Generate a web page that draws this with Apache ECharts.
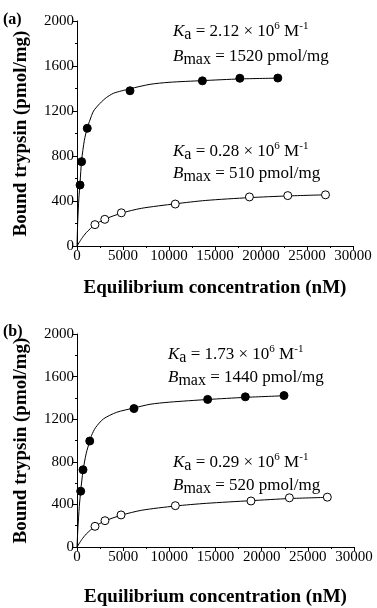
<!DOCTYPE html>
<html>
<head>
<meta charset="utf-8">
<script src="https://cdn.jsdelivr.net/npm/echarts@6/dist/echarts.min.js"></script>
<style>
html, body { margin: 0; padding: 0; background: #fff; }
#main { width: 377px; height: 608px; }
</style>
</head>
<body>
<div id="main"></div>
<script>
// 面板 (a) 数据点，读自原图
var aFilledX = [330, 500, 1115, 5760, 13630, 17700, 21830];
var aFilledY = [542, 750, 1046, 1380, 1468, 1491, 1493];
var aOpenX = [1950, 3020, 4820, 10680, 18740, 22910, 27010];
var aOpenY = [190, 237, 295, 373, 436, 448, 455];
// 面板 (a) 拟合曲线
var aFitFX = [0, 80, 200, 330, 500, 800, 1115, 1410, 1800, 2500, 3200, 3950, 4800, 5760, 7930, 10000, 13630, 17700, 21830];
var aFitFY = [0, 220, 420, 560, 760, 940, 1050, 1120, 1200, 1268, 1320, 1357, 1378, 1398, 1437, 1455, 1470, 1485, 1492];
var aFitOX = [0, 500, 1000, 1950, 3020, 4820, 7000, 10680, 14000, 18740, 22910, 27010];
var aFitOY = [0, 65, 118, 190, 238, 292, 335, 375, 405, 430, 445, 455];

// 面板 (b) 数据点
var bFilledX = [400, 650, 1380, 6170, 14150, 18230, 22420];
var bFilledY = [524, 725, 995, 1300, 1386, 1410, 1422];
var bOpenX = [1950, 3030, 4770, 10650, 18840, 23000, 27110];
var bOpenY = [194, 247, 301, 388, 432, 462, 468];
// 面板 (b) 拟合曲线
var bFitFX = [0, 100, 250, 400, 650, 1000, 1380, 1590, 2000, 2850, 4300, 6170, 7900, 10000, 14150, 18230, 22420];
var bFitFY = [0, 180, 380, 525, 715, 880, 995, 1050, 1120, 1202, 1265, 1305, 1340, 1360, 1385, 1405, 1420];
var bFitOX = [0, 500, 1000, 1950, 3030, 4770, 7000, 10650, 14000, 18840, 23000, 27110];
var bFitOY = [0, 68, 122, 194, 245, 298, 345, 385, 410, 435, 455, 466];

var xTicks = [0, 5000, 10000, 15000, 20000, 25000, 30000];
var yTicks = [0, 400, 800, 1200, 1600, 2000];

var serif = '"Liberation Serif", "DejaVu Serif", serif';

function pairs(xs, ys) {
	return xs.map(function(x, i) { return [x, ys[i]]; });
}

function xAxisOf(idx, gap) {
	return {
		type: 'value', gridIndex: idx,
		min: xTicks[0], max: xTicks[xTicks.length - 1], interval: 5000,
		name: 'Equilibrium concentration (nM)', nameLocation: 'middle', nameGap: gap,
		nameTextStyle: { fontFamily: serif, fontWeight: 'bold', fontSize: 19, color: '#000' },
		axisLine: { lineStyle: { color: '#000', width: 1 } },
		axisTick: { length: 4, lineStyle: { color: '#000' } },
		minorTick: { show: true, splitNumber: 2, length: 2, lineStyle: { color: '#000' } },
		axisLabel: { fontFamily: serif, fontSize: 15, color: '#000', margin: 3,
			formatter: function(v) { return String(v); } },
		splitLine: { show: false }
	};
}
function yAxisOf(idx) {
	return {
		type: 'value', gridIndex: idx,
		min: yTicks[0], max: yTicks[yTicks.length - 1], interval: 400,
		name: 'Bound trypsin (pmol/mg)', nameLocation: 'middle', nameGap: 46,
		nameTextStyle: { fontFamily: serif, fontWeight: 'bold', fontSize: 19, color: '#000' },
		axisLine: { show: true, lineStyle: { color: '#000', width: 1 } },
		axisTick: { show: true, length: 4, lineStyle: { color: '#000' } },
		minorTick: { show: true, splitNumber: 2, length: 2, lineStyle: { color: '#000' } },
		axisLabel: { fontFamily: serif, fontSize: 15, color: '#000', margin: 3,
			formatter: function(v) { return String(v); } },
		splitLine: { show: false }
	};
}
function lineS(idx, data) {
	return {
		type: 'line', xAxisIndex: idx, yAxisIndex: idx, data: data,
		smooth: 0.25, showSymbol: false, symbol: 'none',
		lineStyle: { color: '#000', width: 1 }, z: 2, silent: true
	};
}
function dotS(idx, data, filled) {
	return {
		type: 'scatter', xAxisIndex: idx, yAxisIndex: idx, data: data,
		symbol: 'circle', symbolSize: 8,
		itemStyle: { color: filled ? '#000' : '#fff', borderColor: '#000', borderWidth: 1, opacity: 1 },
		z: 3
	};
}

var rich = {
	k: { fontFamily: serif, fontStyle: 'italic', fontSize: 17, lineHeight: 22, verticalAlign: 'middle', fill: '#000' },
	s: { fontFamily: serif, fontSize: 16, lineHeight: 22, verticalAlign: 'bottom', fill: '#000' },
	n: { fontFamily: serif, fontSize: 17, lineHeight: 22, verticalAlign: 'middle', fill: '#000' },
	p: { fontFamily: serif, fontSize: 11, lineHeight: 22, verticalAlign: 'top', fill: '#000' }
};
function kaText(x, y, v) {
	return { type: 'text', left: x, top: y, style: { text: '{k|K}{s|a}{n| = ' + v + ' × 10}{p|6}{n| M}{p|-1}', rich: rich } };
}
function bmText(x, y, v) {
	return { type: 'text', left: x, top: y, style: { text: '{k|B}{s|max}{n| = ' + v + ' pmol/mg}', rich: rich } };
}
function panelLabel(y, t) {
	return { type: 'text', left: 3, top: y, style: { text: t, font: 'bold 16px ' + serif, fill: '#000' } };
}

var myChart = echarts.init(document.getElementById('main'));
var option = {
	backgroundColor: '#fff',
	animation: false,
	grid: [
		{ left: 77, right: 24, top: 21, height: 225 },
		{ left: 77, right: 23, top: 334, height: 224 }
	],
	xAxis: [xAxisOf(0, 33), xAxisOf(1, 41)],
	yAxis: [yAxisOf(0), yAxisOf(1)],
	series: [
		lineS(0, pairs(aFitFX, aFitFY)),
		lineS(0, pairs(aFitOX, aFitOY)),
		dotS(0, pairs(aFilledX, aFilledY), true),
		dotS(0, pairs(aOpenX, aOpenY), false),
		lineS(1, pairs(bFitFX, bFitFY)),
		lineS(1, pairs(bFitOX, bFitOY)),
		dotS(1, pairs(bFilledX, bFilledY), true),
		dotS(1, pairs(bOpenX, bOpenY), false)
	],
	graphic: [
		panelLabel(12, '(a)'),
		panelLabel(324, '(b)'),
		kaText(173, 21, '2.12'),
		bmText(173, 48, '1520'),
		kaText(173, 141, '0.28'),
		bmText(173, 165, '510'),
		kaText(168, 344, '1.73'),
		bmText(168, 369, '1440'),
		kaText(173, 452, '0.29'),
		bmText(173, 477, '520')
	]
};
myChart.setOption(option);
</script>
</body>
</html>
